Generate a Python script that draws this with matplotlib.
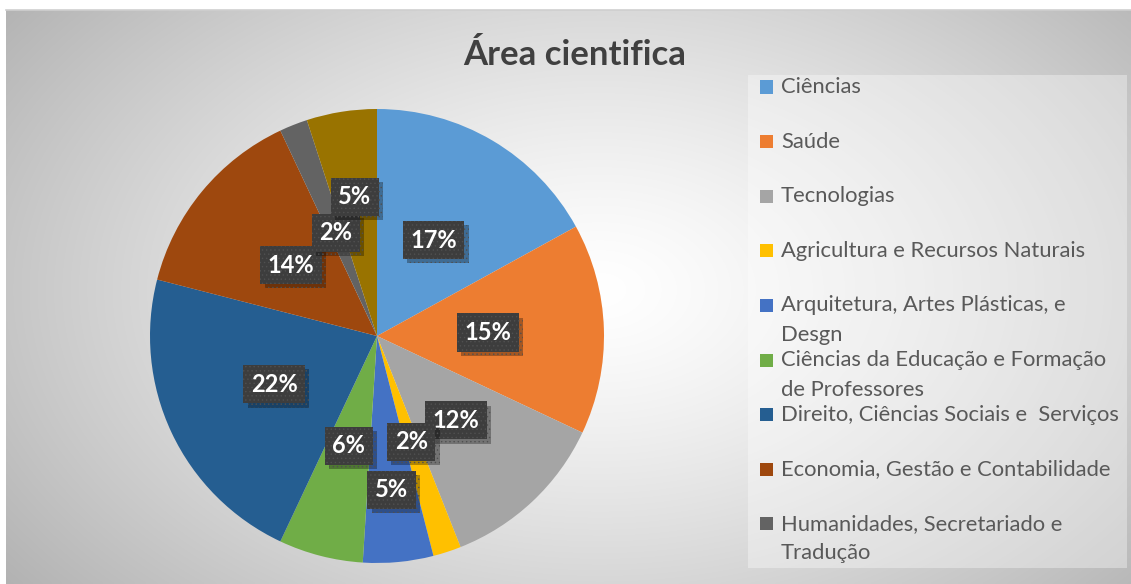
import matplotlib.pyplot as plt
import matplotlib.patheffects as pe
import numpy as np
from matplotlib.patches import Rectangle


W, H = 1131, 584

TITLE = "Área cientifica"

categories = [
    "Ciências",
    "Saúde",
    "Tecnologias",
    "Agricultura e Recursos Naturais",
    "Arquitetura, Artes Plásticas, e\nDesgn",
    "Ciências da Educação e Formação\nde Professores",
    "Direito, Ciências Sociais e  Serviços",
    "Economia, Gestão e Contabilidade",
    "Humanidades, Secretariado e\nTradução",
    "Outros",
]
percentages = [17, 15, 12, 2, 5, 6, 22, 14, 2, 5]
colors = [
    "#5B9BD5", "#ED7D31", "#A5A5A5", "#FFC000", "#4472C4",
    "#70AD47", "#255E91", "#9E480E", "#636363", "#997300",
]

# the last entry is cut off in the original legend
LEGEND_SHOWN = 9
LABEL_RADIUS = [0.49, 0.49, 0.51, 0.49, 0.68, 0.50, 0.50, 0.49, 0.49, 0.62]

plt.rcParams["font.family"] = ["Lato", "DejaVu Sans"]
plt.rcParams["hatch.linewidth"] = 0.5


def px(x, y):
    return x / W, 1 - y / H


def main():
    fig = plt.figure(figsize=(W / 100, H / 100), dpi=100)
    fig.patch.set_facecolor("white")

    # chart area with a soft radial gradient
    bg_left, bg_top = 6, 10
    bg = fig.add_axes([bg_left / W, 0, 1 - bg_left / W, 1 - bg_top / H])
    gx, gy = np.meshgrid(np.linspace(bg_left, W, 400), np.linspace(bg_top, H, 220))
    d = np.sqrt(((gx - 600) / 620) ** 2 + ((gy - 290) / 400) ** 2)
    shade = 255 - 60 * np.clip(d, 0, 1.2) ** 1.3
    img = np.dstack([shade, shade, shade]) / 255
    bg.imshow(np.clip(img, 0, 1), aspect="auto", extent=(0, 1, 0, 1), interpolation="bilinear")
    bg.set_axis_off()
    fig.add_artist(plt.Line2D([bg_left / W, 1], [1 - bg_top / H] * 2, color="#cfcfcf", lw=1.2))

    # pie
    cx, cy, r = 377, 336, 227
    ax = fig.add_axes([(cx - r) / W, 1 - (cy + r) / H, 2 * r / W, 2 * r / H])
    wedges, _ = ax.pie(
        percentages,
        colors=colors,
        startangle=90,
        counterclock=False,
        wedgeprops=dict(linewidth=0),
    )
    ax.set_xlim(-1, 1)
    ax.set_ylim(-1, 1)
    ax.set_aspect("equal")
    ax.patch.set_alpha(0)

    for wedge, value, rad in zip(wedges, percentages, LABEL_RADIUS):
        mid = np.deg2rad((wedge.theta1 + wedge.theta2) / 2)
        x, y = rad * np.cos(mid), rad * np.sin(mid)
        t = ax.text(
            x, y, f"{value}%", ha="center", va="center", fontsize=17, fontweight="bold",
            color="white",
            bbox=dict(boxstyle="square,pad=0.32", fc="#3d3d3d", ec="#505050", lw=0, hatch="...."),
        )
        t.get_bbox_patch().set_path_effects([
            pe.SimplePatchShadow(offset=(3, -3), shadow_rgbFace="black", alpha=0.3),
            pe.Normal(),
        ])

    # title
    tx, ty = px(575, 55)
    fig.text(tx, ty, TITLE, ha="center", va="center", fontsize=25,
             fontweight="bold", color="#404040")

    # legend panel
    lx0, ly0 = px(748, 568)
    lx1, ly1 = px(1127, 75)
    fig.add_artist(Rectangle((lx0, ly0), lx1 - lx0, ly1 - ly0, transform=fig.transFigure,
                             fc="white", alpha=0.35, ec="none"))

    first_y, step = 87, 54.6
    for i in range(LEGEND_SHOWN):
        y = first_y + i * step
        sx, sy = px(760, y + 6.5)
        fig.add_artist(Rectangle((sx, sy), 13 / W, 13 / H, transform=fig.transFigure,
                                 fc=colors[i], ec="none"))
        tx, ty = px(781, y - 10)
        fig.text(tx, ty, categories[i], ha="left", va="top", fontsize=15.8,
                 color="#595959", linespacing=1.6)

    fig.savefig("out.png", dpi=100)


if __name__ == "__main__":
    main()
